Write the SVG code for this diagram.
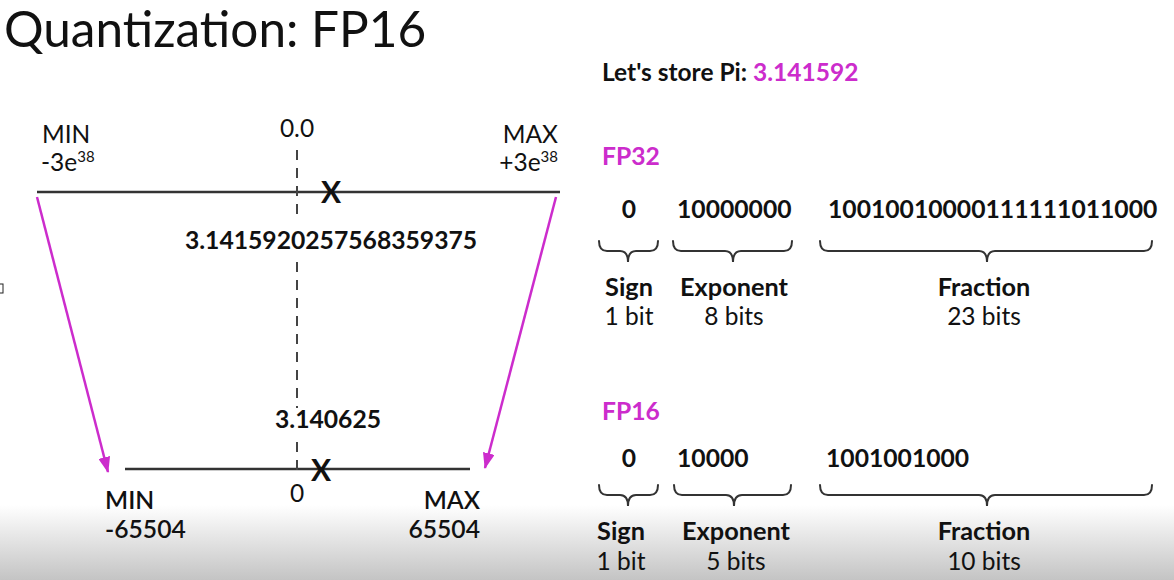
<svg xmlns="http://www.w3.org/2000/svg" width="1174" height="580" viewBox="0 0 1174 580">
<defs>
<linearGradient id="shade" x1="0" y1="0" x2="0" y2="1">
<stop offset="0" stop-color="#ffffff"/>
<stop offset="1" stop-color="#c4c4c4"/>
</linearGradient>
<marker id="ahm" viewBox="0 0 16 12" refX="15" refY="6" markerWidth="16" markerHeight="12" orient="auto" markerUnits="userSpaceOnUse">
<path d="M0,0 L16,6 L0,12 z" fill="#cc2ccc"/>
</marker>
</defs>
<style>
text{font-family:Lato,"Open Sans","Liberation Sans",sans-serif;fill:#111}
.r{font-size:24.5px}
.b{font-size:24.7px;font-weight:bold}
.l{font-size:25.3px;font-weight:bold}
.m{fill:#cc2ccc}
.axis{stroke:#333;stroke-width:2.5;fill:none}
.dash{stroke:#444;stroke-width:2;stroke-dasharray:10 8;fill:none}
.arr{stroke:#cc2ccc;stroke-width:2.5;fill:none}
.brace{stroke:#333;stroke-width:2;fill:none;stroke-linecap:round}
.x{font-size:30px;font-weight:bold}
</style>
<rect x="0" y="0" width="1174" height="580" fill="#ffffff"/>
<rect x="0" y="505" width="1174" height="75" fill="url(#shade)"/>
<rect x="-1" y="284" width="4" height="9" fill="none" stroke="#222" stroke-width="1"/>

<g id="title"><text x="4" y="47" style="font-size:49.5px">Quantization: FP16</text></g>
<g id="pi-label"><text x="602" y="81" class="b" style="font-size:24.5px">Let's store Pi: <tspan class="m">3.141592</tspan></text></g>

<g id="fp32-range">
<line class="axis" x1="37" y1="192" x2="560" y2="192"/>
<text x="42" y="143" class="r">MIN</text>
<text x="41" y="171" class="r">-3e<tspan dy="-9" style="font-size:15px">38</tspan></text>
<text x="297" y="137" class="r" text-anchor="middle">0.0</text>
<text x="558" y="143" class="r" text-anchor="end">MAX</text>
<text x="558" y="171" class="r" text-anchor="end">+3e<tspan dy="-9" style="font-size:15px">38</tspan></text>
<text x="331" y="203" class="x" text-anchor="middle">X</text>
<text x="331" y="249" class="b" text-anchor="middle">3.1415920257568359375</text>
</g>

<g id="fp16-range">
<line class="axis" x1="125" y1="469" x2="470" y2="469"/>
<text x="321" y="481" class="x" text-anchor="middle">X</text>
<text x="328" y="428" class="b" text-anchor="middle">3.140625</text>
<text x="297" y="502" class="r" text-anchor="middle">0</text>
<text x="105" y="509" class="b" style="font-weight:600">MIN</text>
<text x="105" y="538" class="b" style="font-weight:600">-65504</text>
<text x="480" y="509" class="b" style="font-weight:600" text-anchor="end">MAX</text>
<text x="480" y="538" class="b" style="font-weight:600" text-anchor="end">65504</text>
</g>

<g id="connectors">
<path class="dash" d="M297,150 V217 M297,262 V408 M297,442 V472"/>
<line class="arr" x1="37" y1="197" x2="108" y2="472" marker-end="url(#ahm)"/>
<line class="arr" x1="556" y1="197" x2="485" y2="468" marker-end="url(#ahm)"/>
</g>

<g id="fp32-bits">
<text x="602" y="165" class="b m">FP32</text>
<text x="629" y="218" class="b" text-anchor="middle">0</text>
<text x="677" y="218" class="b">10000000</text>
<text x="828" y="218" class="b">10010010000111111011000</text>
<path class="brace" d="M599,241 Q599,251 607,251 L620,251 Q628,251 628,262 Q628,251 636,251 L650,251 Q658,251 658,241"/>
<path class="brace" d="M673,241 Q673,251 681,251 L725,251 Q733,251 733,262 Q733,251 741,251 L784,251 Q792,251 792,241"/>
<path class="brace" d="M820,241 Q820,251 828,251 L979,251 Q987,251 987,262 Q987,251 995,251 L1144,251 Q1152,251 1152,241"/>
<text x="629" y="296" class="l" text-anchor="middle">Sign</text>
<text x="629" y="325" class="r" text-anchor="middle">1 bit</text>
<text x="734" y="296" class="l" text-anchor="middle">Exponent</text>
<text x="734" y="325" class="r" text-anchor="middle">8 bits</text>
<text x="984" y="296" class="l" text-anchor="middle">Fraction</text>
<text x="984" y="325" class="r" text-anchor="middle">23 bits</text>
</g>

<g id="fp16-bits">
<text x="602" y="420" class="b m">FP16</text>
<text x="629" y="467" class="b" text-anchor="middle">0</text>
<text x="677" y="467" class="b">10000</text>
<text x="826" y="467" class="b">1001001000</text>
<path class="brace" d="M599,485 Q599,495 607,495 L620,495 Q628,495 628,506 Q628,495 636,495 L650,495 Q658,495 658,485"/>
<path class="brace" d="M674,485 Q674,495 682,495 L726,495 Q734,495 734,506 Q734,495 742,495 L783,495 Q791,495 791,485"/>
<path class="brace" d="M820,485 Q820,495 828,495 L979,495 Q987,495 987,506 Q987,495 995,495 L1144,495 Q1152,495 1152,485"/>
<text x="621" y="540" class="l" text-anchor="middle">Sign</text>
<text x="621" y="570" class="r" text-anchor="middle">1 bit</text>
<text x="736" y="540" class="l" text-anchor="middle">Exponent</text>
<text x="736" y="570" class="r" text-anchor="middle">5 bits</text>
<text x="984" y="540" class="l" text-anchor="middle">Fraction</text>
<text x="984" y="570" class="r" text-anchor="middle">10 bits</text>
</g>
</svg>
